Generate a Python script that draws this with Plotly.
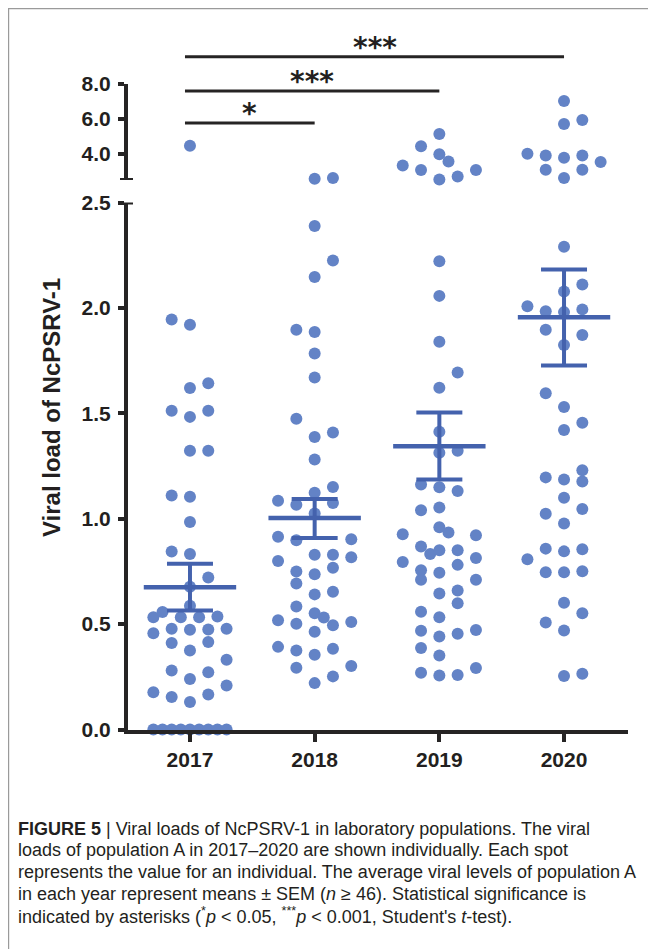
import plotly.graph_objects as go

# The page body has an 8px margin, so the figure is drawn 8px right/down of the page origin.
OFF = 8
W, H = 656 - OFF, 949 - OFF

years = ["2017", "2018", "2019", "2020"]

# Individual viral loads and beeswarm column slot of each spot
load_2017 = [4.46, 1.945, 1.92, 1.643, 1.62, 1.512, 1.512, 1.483, 1.322, 1.322, 1.11,
             1.104, 0.984, 0.844, 0.833, 0.721, 0.677, 0.587,
             0.533, 0.557, 0.533, 0.533, 0.536, 0.457, 0.478, 0.473, 0.474, 0.478,
             0.41, 0.415, 0.375, 0.331, 0.28, 0.272, 0.24, 0.209, 0.177, 0.154, 0.166, 0.13,
             0, 0, 0, 0, 0, 0, 0, 0, 0]
slot_2017 = [0, -1, 0, 1, 0, -1, 1, 0, 0, 1, -1,
             0, 0, -1, 0, 1, 0, 0,
             -2, -1.5, -0.5, 0.5, 1.5, -2, -1, 0, 1, 2,
             -1, 1, 0, 2, -1, 1, 0, 2, -2, -1, 1, 0,
             -2, -1.5, -1, -0.5, 0, 0.5, 1, 1.5, 2]

load_2018 = [2.57, 2.62, 2.389, 2.225, 2.147, 1.896, 1.886, 1.784, 1.67, 1.474,
             1.409, 1.388, 1.281, 1.15, 1.123, 1.085, 1.074, 1.066, 1.025, 0.914,
             0.902, 0.898, 0.829, 0.829, 0.817, 0.799, 0.767, 0.75, 0.736, 0.693,
             0.654, 0.641, 0.583, 0.551, 0.531, 0.518, 0.51, 0.502, 0.494, 0.464,
             0.392, 0.383, 0.375, 0.355, 0.301, 0.293, 0.252, 0.22]
slot_2018 = [0, 1, 0, 1, 0, -1, 0, 0, 0, -1,
             1, 0, 0, 1, 0, -2, 1, -1, 0, -2,
             2, -1, 0, 1, 2, -2, 1, -1, 0, -1,
             1, 0, -1, 0, 0.5, -2, 2, -1, 1, 0,
             -2, 1, -1, 0, 2, -1, 1, 0]

load_2019 = [5.13, 4.44, 3.98, 3.56, 3.33, 3.07, 2.53, 2.70, 3.07,
             2.221, 2.057, 1.839, 1.694, 1.621, 1.413, 1.313, 1.322, 1.162, 1.149,
             1.131, 1.04, 1.053, 0.959, 0.935, 0.926, 0.922, 0.868, 0.832, 0.85,
             0.85, 0.814, 0.795, 0.781, 0.755, 0.71, 0.744, 0.71, 0.645, 0.659,
             0.599, 0.559, 0.532, 0.468, 0.441, 0.454, 0.472, 0.387, 0.351, 0.292,
             0.269, 0.256, 0.259]
slot_2019 = [0, -1, 0, 0.5, -2, -1, 0, 1, 2,
             0, 0, 0, 1, 0, 0, 0, 1, -1, 0,
             1, -1, 0, 0, 0.5, -2, 2, -1, -0.5, 0,
             1, 2, -2, 1, -1, -1, 0, 2, 0, 1,
             1, -1, 0, -1, 0, 1, 2, -1, 0, 2,
             -1, 0, 1]

load_2020 = [7.03, 5.71, 5.94, 4.0, 3.9, 3.77, 3.9, 3.53, 3.09, 3.09, 2.61,
             2.29, 2.111, 2.078, 2.008, 1.984, 1.98, 1.993, 1.896, 1.871, 1.824,
             1.595, 1.53, 1.455, 1.421, 1.23, 1.177, 1.196, 1.186, 1.099, 1.023,
             1.046, 0.977, 0.808, 0.858, 0.845, 0.855, 0.746, 0.746, 0.751, 0.601,
             0.551, 0.508, 0.47, 0.254, 0.264]
slot_2020 = [0, 0, 1, -2, -1, 0, 1, 2, -1, 1, 0,
             0, 1, 0, -2, -1, 0, 1, -1, 1, 0,
             -1, 0, 1, 0, 1, 1, -1, 0, 0, -1,
             1, 0, -2, -1, 0, 1, -1, 0, 1, 0,
             1, -1, 0, 0, 1]

# Mean and mean +/- SEM per year
mean_load = [0.675, 1.003, 1.344, 1.956]
sem_high = [0.786, 1.094, 1.504, 2.182]
sem_low = [0.565, 0.908, 1.186, 1.727]

# Significance comparisons: (from year index, to year index, label)
comparisons = [(0, 1, "*"), (0, 2, "***"), (0, 3, "***")]

tick_low = [0.0, 0.5, 1.0, 1.5, 2.0, 2.5]
tick_high = [4.0, 6.0, 8.0]
BREAK = 2.5

caption_lines = [
    "<b>FIGURE 5</b> | Viral loads of NcPSRV-1 in laboratory populations. The viral",
    "loads of population A in 2017–2020 are shown individually. Each spot",
    "represents the value for an individual. The average viral levels of population A",
    "in each year represent means ± SEM (<i>n</i> ≥ 46). Statistical significance is",
    "indicated by asterisks (<sup>*</sup><i>p</i> &lt; 0.05, <sup>***</sup><i>p</i> &lt; 0.001, Student's <i>t</i>-test).",
]

DOT = "#6383c6"
BAR = "#4462ad"
AX = "#262424"
TXT = "#231f20"
SLOT = 0.1468


def px(x):
    return (x - OFF) / W


def py(y):
    return 1 - (y - OFF) / H


fig = go.Figure()

groups = [(load_2017, slot_2017), (load_2018, slot_2018), (load_2019, slot_2019), (load_2020, slot_2020)]
for i, (vals, slots) in enumerate(groups):
    lo = [(i + s * SLOT, v) for v, s in zip(vals, slots) if v <= BREAK]
    hi = [(i + s * SLOT, v) for v, s in zip(vals, slots) if v > BREAK]
    for pts, ya in ((lo, "y"), (hi, "y2")):
        if not pts:
            continue
        fig.add_trace(go.Scatter(
            x=[p[0] for p in pts], y=[p[1] for p in pts], mode="markers",
            marker=dict(size=12, color=DOT, line=dict(width=0)),
            xaxis="x", yaxis=ya, cliponaxis=False, showlegend=False, hoverinfo="skip"))

fig.add_trace(go.Scatter(
    x=list(range(len(years))), y=mean_load, mode="markers",
    marker=dict(symbol="line-ew", size=66, color=BAR, line=dict(width=4.5, color=BAR)),
    error_y=dict(type="data", symmetric=False,
                 array=[h - m for h, m in zip(sem_high, mean_load)],
                 arrayminus=[m - l for m, l in zip(mean_load, sem_low)],
                 thickness=4, width=23, color=BAR),
    xaxis="x", yaxis="y", cliponaxis=False, showlegend=False, hoverinfo="skip"))

tickfont = dict(family="Liberation Sans", size=21, color=TXT, weight="bold")
axis_common = dict(showline=True, linewidth=4, linecolor=AX, ticks="outside", tickwidth=4,
                   tickcolor=AX, showgrid=False, zeroline=False, tickfont=tickfont,
                   automargin=False, fixedrange=True)

fig.update_layout(
    width=W, height=H, template="none",
    margin=dict(l=0, r=0, t=0, b=0),
    paper_bgcolor="white", plot_bgcolor="rgba(0,0,0,0)",
    showlegend=False,
    xaxis=dict(domain=[px(128), px(628)], range=[-0.497, 3.513], anchor="y",
               tickvals=list(range(len(years))), ticktext=years, ticklen=8, **axis_common),
    yaxis=dict(domain=[py(729.5), py(202.5)], range=[0, BREAK], anchor="x",
               tickvals=tick_low, tickformat=".1f", ticklen=6, ticklabelstandoff=3, **axis_common),
    yaxis2=dict(domain=[py(180), py(84)], range=[BREAK, 8], anchor="x",
                tickvals=tick_high, tickformat=".1f", ticklen=6, ticklabelstandoff=3, **axis_common),
)

shapes = []
# frame around the figure panel
shapes.append(dict(type="path", xref="paper", yref="paper",
                   path=f"M {px(8.6)} 0 L {px(8.6)} {py(8.6)} L {px(650)} {py(8.6)} L {px(650)} 0",
                   line=dict(color="#9a9a9a", width=1.2)))
# axis break end caps
shapes.append(dict(type="line", xref="paper", yref="y2", x0=px(120), x1=px(133), y0=BREAK, y1=BREAK,
                   line=dict(color=AX, width=4)))
shapes.append(dict(type="line", xref="paper", yref="y", x0=px(124), x1=px(133), y0=BREAK, y1=BREAK,
                   line=dict(color=AX, width=4)))

annotations = []
line_px = [123, 91, 56.7]
for (a, b, lab), ypx in zip(comparisons, line_px):
    x0, x1 = a - 0.04, b
    shapes.append(dict(type="line", xref="x", yref="paper", x0=x0, x1=x1, y0=py(ypx), y1=py(ypx),
                       line=dict(color=AX, width=3)))
    annotations.append(dict(x=(x0 + x1) / 2, y=py(ypx + 9), xref="x", yref="paper",
                            text=lab, showarrow=False, xanchor="center", yanchor="bottom",
                            font=dict(family="DejaVu Sans", size=28, color=TXT, weight="bold")))

annotations.append(dict(x=px(51), y=py(408), xref="paper", yref="paper", text="<b>Viral load of NcPSRV-1</b>",
                        textangle=-90, showarrow=False, xanchor="center", yanchor="middle",
                        font=dict(family="Liberation Sans", size=24, color=TXT)))

cap_y = [828.5, 850.2, 871.9, 893.6, 915.3]
for line, yc in zip(caption_lines, cap_y):
    annotations.append(dict(x=px(16), y=py(yc), xref="paper", yref="paper", text=line,
                            showarrow=False, xanchor="left", yanchor="middle", align="left",
                            font=dict(family="Liberation Sans", size=18, color=TXT)))

fig.update_layout(shapes=shapes, annotations=annotations)
fig.write_html("out.html")
